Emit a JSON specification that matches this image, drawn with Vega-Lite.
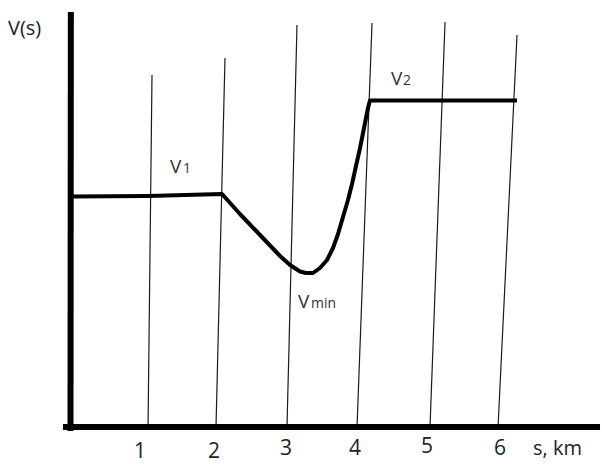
{
  "$schema": "https://vega.github.io/schema/vega-lite/v6.json",
  "width": 602,
  "height": 464,
  "padding": 0,
  "autosize": {"type": "none"},
  "background": "white",
  "config": {"view": {"stroke": null}},
  "datasets": {
    "curve": [
      {"i": 0, "s": 0.028, "v": 2.315},
      {"i": 1, "s": 1.099, "v": 2.32},
      {"i": 2, "s": 2.141, "v": 2.34},
      {"i": 3, "s": 2.394, "v": 2.14},
      {"i": 4, "s": 2.676, "v": 1.93},
      {"i": 5, "s": 2.958, "v": 1.72},
      {"i": 6, "s": 3.099, "v": 1.63},
      {"i": 7, "s": 3.239, "v": 1.565},
      {"i": 8, "s": 3.324, "v": 1.55},
      {"i": 9, "s": 3.423, "v": 1.55},
      {"i": 10, "s": 3.521, "v": 1.6},
      {"i": 11, "s": 3.62, "v": 1.68},
      {"i": 12, "s": 3.704, "v": 1.8},
      {"i": 13, "s": 3.775, "v": 1.94},
      {"i": 14, "s": 3.845, "v": 2.11},
      {"i": 15, "s": 3.915, "v": 2.28},
      {"i": 16, "s": 3.972, "v": 2.44},
      {"i": 17, "s": 4.028, "v": 2.62},
      {"i": 18, "s": 4.085, "v": 2.8},
      {"i": 19, "s": 4.141, "v": 3.0},
      {"i": 20, "s": 4.197, "v": 3.2},
      {"i": 21, "s": 4.225, "v": 3.275},
      {"i": 22, "s": 6.296, "v": 3.275}
    ],
    "grid": [
      {"s0": 1.099, "v0": 0, "s1": 1.155, "v1": 3.53},
      {"s0": 2.056, "v0": 0, "s1": 2.183, "v1": 3.7},
      {"s0": 3.056, "v0": 0, "s1": 3.197, "v1": 4.03},
      {"s0": 4.042, "v0": 0, "s1": 4.254, "v1": 4.05},
      {"s0": 5.07, "v0": 0, "s1": 5.282, "v1": 4.06},
      {"s0": 6.028, "v0": 0, "s1": 6.296, "v1": 3.93}
    ],
    "axes": [
      {"s0": 0.007, "v0": -0.03, "s1": 0.012, "v1": 4.16},
      {"s0": -0.099, "v0": 0.01, "s1": 7.465, "v1": 0.01}
    ],
    "ticks": [
      {"s": 0.986, "v": -0.3, "t": "1"},
      {"s": 2.028, "v": -0.3, "t": "2"},
      {"s": 3.042, "v": -0.27, "t": "3"},
      {"s": 4.014, "v": -0.27, "t": "4"},
      {"s": 5.028, "v": -0.25, "t": "5"},
      {"s": 6.056, "v": -0.27, "t": "6"}
    ],
    "bigtext": [
      {"s": 6.521, "v": -0.27, "t": "s, km"},
      {"s": -0.873, "v": 3.93, "t": "V(s)"}
    ],
    "vlabels": [
      {"s": 1.408, "v": 2.55, "t": "V"},
      {"s": 4.521, "v": 3.43, "t": "V"},
      {"s": 3.211, "v": 1.2, "t": "V"}
    ],
    "subs": [
      {"s": 1.59, "v": 2.55, "t": "1"},
      {"s": 4.69, "v": 3.43, "t": "2"},
      {"s": 3.395, "v": 1.2, "t": "min"}
    ]
  },
  "layer": [
    {
      "data": {"name": "grid"},
      "mark": {"type": "rule", "stroke": "#1a1a1a", "strokeWidth": 1.2},
      "encoding": {
        "x": {"field": "s0", "type": "quantitative", "scale": {"domain": [-0.98592, 7.49296], "nice": false, "zero": false}, "axis": null},
        "y": {"field": "v0", "type": "quantitative", "scale": {"domain": [-0.36, 4.28], "nice": false, "zero": false}, "axis": null},
        "x2": {"field": "s1"},
        "y2": {"field": "v1"}
      }
    },
    {
      "data": {"name": "axes"},
      "mark": {"type": "rule", "stroke": "black", "strokeWidth": 6},
      "encoding": {
        "x": {"field": "s0", "type": "quantitative", "axis": null},
        "y": {"field": "v0", "type": "quantitative", "axis": null},
        "x2": {"field": "s1"},
        "y2": {"field": "v1"}
      }
    },
    {
      "data": {"name": "curve"},
      "mark": {"type": "line", "stroke": "black", "strokeWidth": 4, "strokeJoin": "round"},
      "encoding": {
        "x": {"field": "s", "type": "quantitative", "axis": null},
        "y": {"field": "v", "type": "quantitative", "axis": null},
        "order": {"field": "i", "type": "quantitative"}
      }
    },
    {
      "data": {"name": "ticks"},
      "mark": {"type": "text", "font": "Open Sans", "fontSize": 21, "align": "center", "baseline": "alphabetic", "color": "#222"},
      "encoding": {
        "x": {"field": "s", "type": "quantitative", "axis": null},
        "y": {"field": "v", "type": "quantitative", "axis": null},
        "text": {"field": "t"}
      }
    },
    {
      "data": {"name": "bigtext"},
      "mark": {"type": "text", "font": "Open Sans", "fontSize": 20, "align": "left", "baseline": "alphabetic", "color": "#222"},
      "encoding": {
        "x": {"field": "s", "type": "quantitative", "axis": null},
        "y": {"field": "v", "type": "quantitative", "axis": null},
        "text": {"field": "t"}
      }
    },
    {
      "data": {"name": "vlabels"},
      "mark": {"type": "text", "font": "Open Sans", "fontSize": 19, "align": "left", "baseline": "alphabetic", "color": "#333"},
      "encoding": {
        "x": {"field": "s", "type": "quantitative", "axis": null},
        "y": {"field": "v", "type": "quantitative", "axis": null},
        "text": {"field": "t"}
      }
    },
    {
      "data": {"name": "subs"},
      "mark": {"type": "text", "font": "Open Sans", "fontSize": 14, "align": "left", "baseline": "alphabetic", "color": "#333"},
      "encoding": {
        "x": {"field": "s", "type": "quantitative", "axis": null},
        "y": {"field": "v", "type": "quantitative", "axis": null},
        "text": {"field": "t"}
      }
    }
  ]
}
